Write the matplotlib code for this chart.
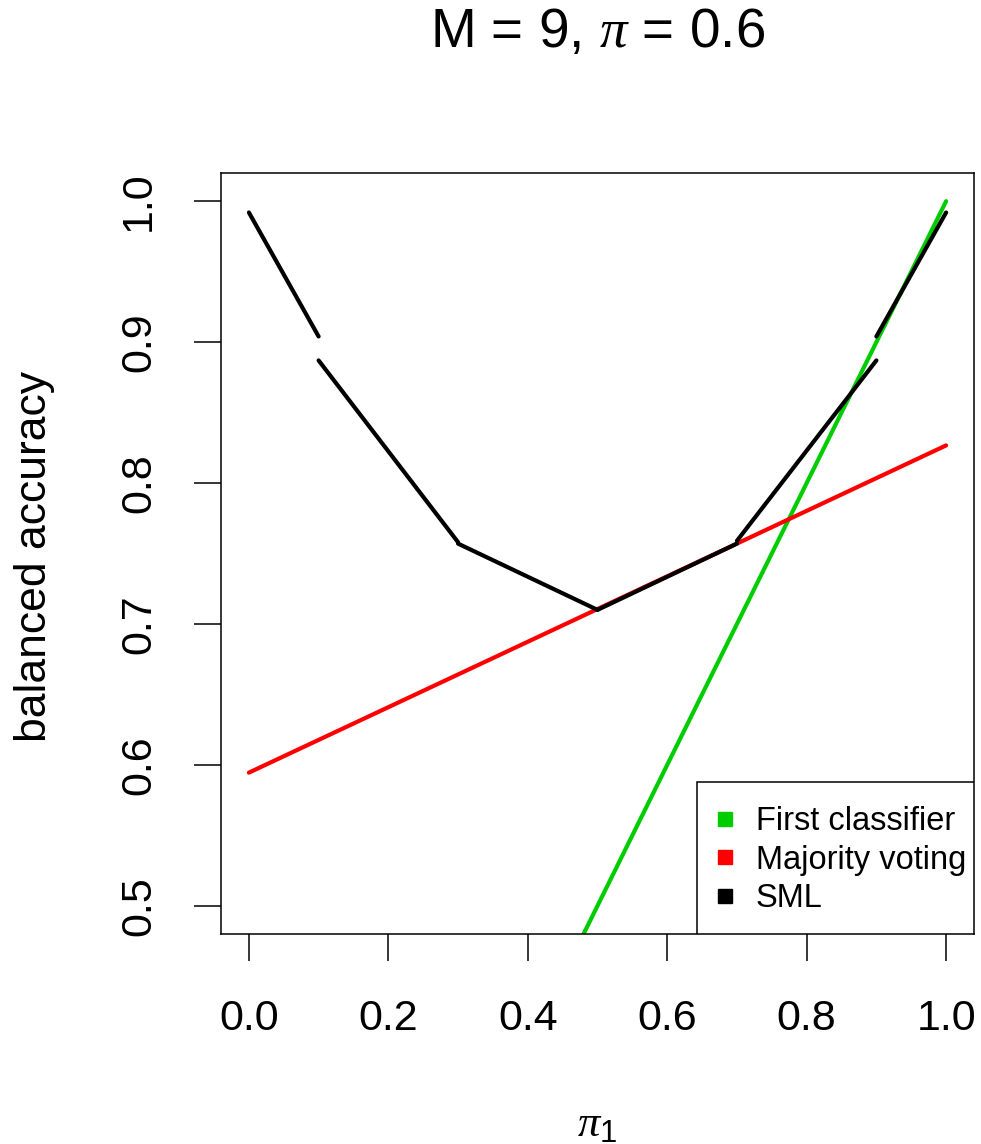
import matplotlib
matplotlib.use("Agg")
import matplotlib.pyplot as plt
from matplotlib.lines import Line2D
from matplotlib.patches import Rectangle

plt.rcParams['font.family'] = ['Liberation Sans', 'DejaVu Sans']
plt.rcParams['mathtext.fontset'] = 'custom'
plt.rcParams['mathtext.rm'] = 'Liberation Sans'
plt.rcParams['mathtext.it'] = 'Liberation Serif:italic'

# straight lines, endpoints
first_x = [0.0, 1.0]
first_y = [0.0, 1.0]
major_x = [0.0, 1.0]
major_y = [0.5945, 0.8267]

# SML is piecewise, one segment per interval
sml_x0 = [0.0, 0.1, 0.3, 0.5, 0.7, 0.9]
sml_x1 = [0.1, 0.3, 0.5, 0.7, 0.9, 1.0]
sml_y0 = [0.992, 0.887, 0.757, 0.710, 0.759, 0.904]
sml_y1 = [0.904, 0.758, 0.710, 0.757, 0.887, 0.992]

xticks = [0.0, 0.2, 0.4, 0.6, 0.8, 1.0]
yticks = [0.5, 0.6, 0.7, 0.8, 0.9, 1.0]

green = '#00CD00'
red = '#FF0000'

fig = plt.figure(figsize=(9.81, 11.44), dpi=100)
W, H = 981, 1144
ax = fig.add_axes([221 / W, 1 - 934 / H, (974 - 221) / W, (934 - 173) / H])
aw, ah = 753.0, 761.0

lw = 3.0
ax.plot(first_x, first_y, color=green, lw=lw, solid_capstyle='round')
ax.plot(major_x, major_y, color=red, lw=lw, solid_capstyle='round')
for i in range(len(sml_x0)):
    ax.plot([sml_x0[i], sml_x1[i]], [sml_y0[i], sml_y1[i]], color='black',
            lw=lw, solid_capstyle='round')

ax.set_xlim(-0.04, 1.04)
ax.set_ylim(0.48, 1.02)
ax.set_xticks(xticks)
ax.set_xticklabels(['%.1f' % v for v in xticks])
ax.set_yticks(yticks)
ax.set_yticklabels(['%.1f' % v for v in yticks])
for s in ax.spines.values():
    s.set_linewidth(1.1)
ax.tick_params(length=19.5, width=1.1, labelsize=31, direction='out')
ax.tick_params(axis='x', pad=27)
ax.tick_params(axis='y', pad=25)
for lbl in ax.get_yticklabels():
    lbl.set_rotation(90)
    lbl.set_va('center')

# R-style legend box: drawn by hand, entries placed inside it
ax.add_patch(Rectangle(((697 - 221) / aw, 0), (974 - 697) / aw, (934 - 782) / ah,
                       transform=ax.transAxes, facecolor='white',
                       edgecolor='black', lw=1.1, zorder=4))
handles = [Line2D([], [], ls='none', marker='s', markersize=10, color=c)
           for c in [green, red, 'black']]
leg = ax.legend(handles, ['First classifier', 'Majority voting', 'SML'],
                loc='upper left', bbox_to_anchor=((715 - 221) / aw, (934 - 806) / ah),
                borderaxespad=0, borderpad=0, fontsize=23.5, frameon=False,
                handlelength=0.61, handletextpad=0.64, labelspacing=0.23)
leg.set_zorder(5)

fig.text(598 / W, 1 - 33 / H, r'M = 9, $\pi$ = 0.6', fontsize=39.5,
         ha='center', va='center')
fig.text(35 / W, 1 - 556 / H, 'balanced accuracy', fontsize=32,
         rotation=90, ha='center', va='center')
fig.text(597 / W, 1 - 1124 / H, r'$\pi_1$', fontsize=32,
         ha='center', va='center')

fig.savefig('out.png', dpi=100)
